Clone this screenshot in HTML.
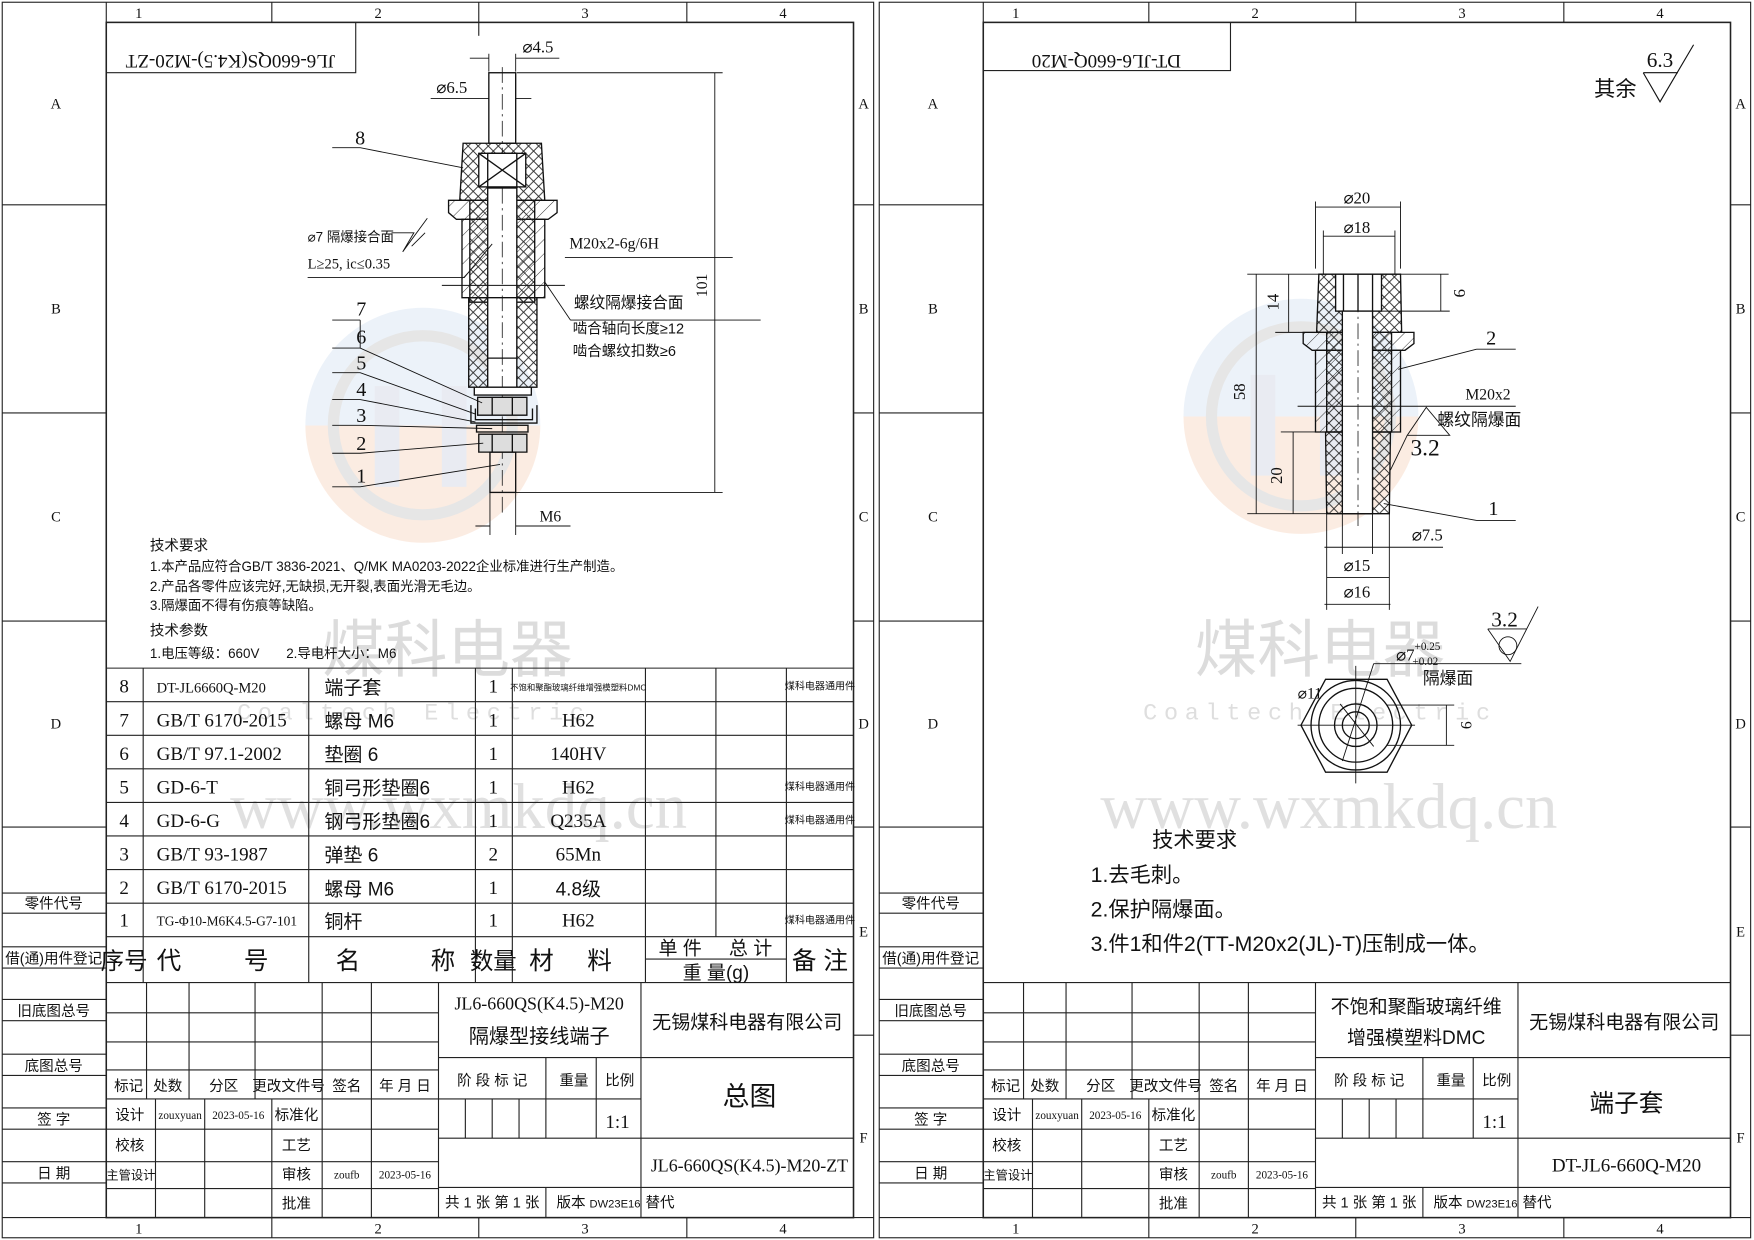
<!DOCTYPE html>
<html><head><meta charset="utf-8"><style>
html,body{margin:0;padding:0;background:#fff;}
svg{display:block;}
text{font-family:"Liberation Serif","Noto Sans CJK SC",serif;fill:#111;}
.c{text-anchor:middle;}
.s{font-family:"Liberation Sans","Noto Sans CJK SC",sans-serif;}
</style></head><body>
<svg width="1754" height="1240" viewBox="0 0 1568 1108" preserveAspectRatio="none" xmlns="http://www.w3.org/2000/svg">
<defs>
<pattern id="hx" patternUnits="userSpaceOnUse" width="9" height="9">
<path d="M0 0L9 9M9 0L0 9" stroke="#222" stroke-width="0.8"/></pattern>
<pattern id="h1" patternUnits="userSpaceOnUse" width="9" height="9" patternTransform="rotate(45)">
<line x1="0" y1="0" x2="0" y2="9" stroke="#222" stroke-width="0.8"/></pattern>
<linearGradient id="wm" x1="0" y1="0" x2="0" y2="1">
<stop offset="0.5" stop-color="#e9f0f8"/><stop offset="0.5" stop-color="#fbe9de"/></linearGradient>
</defs>
<rect width="1568" height="1108" fill="#fff"/>

<!-- watermarks -->
<g opacity="0.85">
<circle cx="378" cy="380" r="105" fill="url(#wm)"/>
<circle cx="378" cy="380" r="80" fill="none" stroke="#e2e2e2" stroke-width="10"/>
<rect x="335" y="345" width="22" height="90" fill="#e6e8f0"/><rect x="395" y="345" width="22" height="90" fill="#e6e8f0"/>
<circle cx="1163" cy="372" r="105" fill="url(#wm)"/>
<circle cx="1163" cy="372" r="80" fill="none" stroke="#e2e2e2" stroke-width="10"/>
<rect x="1118" y="335" width="22" height="90" fill="#e6e8f0"/><rect x="1180" y="335" width="22" height="90" fill="#e6e8f0"/>
</g>
<g fill="#d9d9d9">
<text x="400" y="600" class="c s" font-size="56" style="fill:#dcdcdc">煤科电器</text>
<text x="1180" y="600" class="c s" font-size="56" style="fill:#dcdcdc">煤科电器</text>
<text x="370" y="643" class="c" font-size="21" letter-spacing="6" style="fill:#dedede;font-family:'Liberation Mono',monospace">Coaltech Electric</text>
<text x="1180" y="643" class="c" font-size="21" letter-spacing="6" style="fill:#dedede;font-family:'Liberation Mono',monospace">Coaltech Electric</text>
<text x="410" y="740" class="c" font-size="58" style="fill:#e0e0e0">www.wxmkdq.cn</text>
<text x="1188" y="740" class="c" font-size="58" style="fill:#e0e0e0">www.wxmkdq.cn</text>
</g>

<!-- ============ FRAMES ============ -->
<g id="fr" fill="none" stroke="#222" stroke-width="1">
<rect x="2" y="2" width="779" height="1104"/>
<rect x="95" y="20" width="668" height="1068" stroke-width="1.4"/>
<line x1="95" y1="2" x2="95" y2="20"/><line x1="243" y1="2" x2="243" y2="20"/><line x1="428" y1="2" x2="428" y2="32"/><line x1="614" y1="2" x2="614" y2="20"/>
<line x1="2" y1="1088" x2="95" y2="1088"/><line x1="763" y1="1088" x2="781" y2="1088"/>
<line x1="243" y1="1088" x2="243" y2="1106"/><line x1="428" y1="1088" x2="428" y2="1106"/><line x1="614" y1="1088" x2="614" y2="1106"/>
<line x1="2" y1="183" x2="95" y2="183"/><line x1="2" y1="369" x2="95" y2="369"/><line x1="2" y1="555" x2="95" y2="555"/><line x1="2" y1="739" x2="95" y2="739"/>
<line x1="763" y1="183" x2="781" y2="183"/><line x1="763" y1="369" x2="781" y2="369"/><line x1="763" y1="555" x2="781" y2="555"/><line x1="763" y1="739" x2="781" y2="739"/><line x1="763" y1="925" x2="781" y2="925"/>
<path d="M2 798H95M2 816H95M2 846H95M2 865H95M2 893H95M2 912H95M2 942H95M2 961H95M2 990H95M2 1009H95M2 1038H95M2 1057H95"/>
<!-- title block -->
<line x1="95" y1="878" x2="763" y2="878"/>
<path d="M95 905H392M95 931H392M95 956H392M95 982H392M95 1009H392M95 1038H392M95 1062H392"/>
<path d="M131 878V982M169 878V982M228 878V982M288 878V1088M332 878V1088M139 982V1088M183 982V1088M243 982V1088"/>
<line x1="392" y1="878" x2="392" y2="1088"/><line x1="573" y1="878" x2="573" y2="1088"/>
<path d="M392 945H763M392 982H573M392 1017H763M392 1061H763"/>
<path d="M488 945V1017M533 945V1017M416 982V1017M440 982V1017M464 982V1017M488 1061V1088"/>
</g>
<g font-size="13">
<text x="124" y="16" class="c">1</text><text x="338" y="16" class="c">2</text><text x="523" y="16" class="c">3</text><text x="700" y="16" class="c">4</text>
<text x="124" y="1102" class="c">1</text><text x="338" y="1102" class="c">2</text><text x="523" y="1102" class="c">3</text><text x="700" y="1102" class="c">4</text>
<text x="50" y="97" class="c">A</text><text x="50" y="280" class="c">B</text><text x="50" y="466" class="c">C</text><text x="50" y="651" class="c">D</text>
<text x="772" y="97" class="c">A</text><text x="772" y="280" class="c">B</text><text x="772" y="466" class="c">C</text><text x="772" y="651" class="c">D</text><text x="772" y="837" class="c">E</text><text x="772" y="1021" class="c">F</text>
</g>
<g font-size="13" class="s">
<text x="48" y="812" class="c s">零件代号</text><text x="48" y="861" class="c s">借(通)用件登记</text><text x="48" y="908" class="c s">旧底图总号</text>
<text x="48" y="957" class="c s">底图总号</text><text x="48" y="1005" class="c s">签 字</text><text x="48" y="1053" class="c s">日 期</text>
<text x="115" y="975" class="c s">标记</text><text x="150" y="975" class="c s">处数</text><text x="200" y="975" class="c s">分区</text><text x="258" y="975" class="c s">更改文件号</text><text x="310" y="975" class="c s">签名</text><text x="362" y="975" class="c s">年 月 日</text>
<text x="116" y="1001" class="c s">设计</text><text x="161" y="1000" class="c" font-size="10">zouxyuan</text><text x="213" y="1000" class="c" font-size="10">2023-05-16</text><text x="265" y="1001" class="c s">标准化</text>
<text x="116" y="1028" class="c s">校核</text><text x="265" y="1028" class="c s">工艺</text>
<text x="117" y="1054" class="c s" font-size="11">主管设计</text><text x="265" y="1054" class="c s">审核</text><text x="310" y="1053" class="c" font-size="10">zoufb</text><text x="362" y="1053" class="c" font-size="10">2023-05-16</text>
<text x="265" y="1080" class="c s">批准</text>
<text x="440" y="970" class="c s">阶 段 标 记</text><text x="513" y="970" class="c s">重量</text><text x="554" y="970" class="c s">比例</text>
<text x="552" y="1008" class="c" font-size="17">1:1</text>
<text x="440" y="1079" class="c s">共 1 张  第 1 张</text><text x="535" y="1079" class="c s">版本 <tspan font-size="10" class="s">DW23E16</tspan></text><text x="590" y="1079" class="c s">替代</text>
</g>
<g font-size="17" class="s">
<text x="482" y="902" class="c" font-size="16">JL6-660QS(K4.5)-M20</text>
<text x="482" y="932" class="c s" font-size="18">隔爆型接线端子</text>
<text x="668" y="919" class="c s" font-size="17">无锡煤科电器有限公司</text>
<text x="670" y="988" class="c s" font-size="24">总图</text>
<text x="670" y="1047" class="c" font-size="16">JL6-660QS(K4.5)-M20-ZT</text>
</g>
<!-- inverted title box left -->
<path d="M95 65H318V20" fill="none" stroke="#222"/>
<text x="206" y="35" class="c" font-size="17" transform="rotate(180 206 42)">JL6-660QS(K4.5)-M20-ZT</text>

<!-- parts table -->
<g fill="none" stroke="#222" stroke-width="1">
<path d="M95 597H763M95 627H763M95 657H763M95 687H763M95 717H763M95 747H763M95 777H763M95 807H763M95 837H763"/>
<path d="M128 597V878M276 597V878M425 597V878M458 597V878M577 597V878M703 597V878M640 597V837M577 857H703"/>
</g>
<g font-size="17">
<text x="111" y="619" class="c">8</text><text x="140" y="619" font-size="13">DT-JL6660Q-M20</text><text x="290" y="620" class="s">端子套</text><text x="441" y="619" class="c">1</text><text x="517" y="617" class="c s" font-size="7.5">不饱和聚酯玻璃纤维增强模塑料DMC</text><text x="733" y="616" class="c s" font-size="9">煤科电器通用件</text>
<text x="111" y="649" class="c">7</text><text x="140" y="649">GB/T 6170-2015</text><text x="290" y="650" class="s">螺母 M6</text><text x="441" y="649" class="c">1</text><text x="517" y="649" class="c">H62</text>
<text x="111" y="679" class="c">6</text><text x="140" y="679">GB/T 97.1-2002</text><text x="290" y="680" class="s">垫圈 6</text><text x="441" y="679" class="c">1</text><text x="517" y="679" class="c">140HV</text>
<text x="111" y="709" class="c">5</text><text x="140" y="709">GD-6-T</text><text x="290" y="710" class="s">铜弓形垫圈6</text><text x="441" y="709" class="c">1</text><text x="517" y="709" class="c">H62</text><text x="733" y="706" class="c s" font-size="9">煤科电器通用件</text>
<text x="111" y="739" class="c">4</text><text x="140" y="739">GD-6-G</text><text x="290" y="740" class="s">钢弓形垫圈6</text><text x="441" y="739" class="c">1</text><text x="517" y="739" class="c">Q235A</text><text x="733" y="736" class="c s" font-size="9">煤科电器通用件</text>
<text x="111" y="769" class="c">3</text><text x="140" y="769">GB/T 93-1987</text><text x="290" y="770" class="s">弹垫 6</text><text x="441" y="769" class="c">2</text><text x="517" y="769" class="c">65Mn</text>
<text x="111" y="799" class="c">2</text><text x="140" y="799">GB/T 6170-2015</text><text x="290" y="800" class="s">螺母 M6</text><text x="441" y="799" class="c">1</text><text x="517" y="800" class="c s">4.8级</text>
<text x="111" y="828" class="c">1</text><text x="140" y="827" font-size="12">TG-Φ10-M6K4.5-G7-101</text><text x="290" y="829" class="s">铜杆</text><text x="441" y="828" class="c">1</text><text x="517" y="828" class="c">H62</text><text x="733" y="825" class="c s" font-size="9">煤科电器通用件</text>
<text x="111" y="866" class="c s" font-size="21">序号</text><text x="140" y="866" class="s" font-size="22">代</text><text x="218" y="866" class="s" font-size="22">号</text>
<text x="300" y="866" class="s" font-size="22">名</text><text x="385" y="866" class="s" font-size="22">称</text>
<text x="441" y="866" class="c s" font-size="21">数量</text><text x="473" y="866" class="s" font-size="22">材</text><text x="525" y="866" class="s" font-size="22">料</text>
<text x="608" y="853" class="c s" font-size="17">单 件</text><text x="671" y="853" class="c s" font-size="17">总 计</text><text x="640" y="875" class="c s" font-size="17">重 量(g)</text>
<text x="733" y="866" class="c s" font-size="22">备 注</text>
</g>
<!-- tech req left -->
<g font-size="12" class="s">
<text x="134" y="492" class="s" font-size="13">技术要求</text>
<text x="134" y="510" class="s">1.本产品应符合GB/T 3836-2021、Q/MK MA0203-2022企业标准进行生产制造。</text>
<text x="134" y="528" class="s">2.产品各零件应该完好,无缺损,无开裂,表面光滑无毛边。</text>
<text x="134" y="545" class="s">3.隔爆面不得有伤痕等缺陷。</text>
<text x="134" y="568" class="s" font-size="13">技术参数</text>
<text x="134" y="588" class="s">1.电压等级：660V　　2.导电杆大小：M6</text>
</g>

<!-- ===== left drawing ===== -->
<g stroke="#111" stroke-width="1.2" fill="none">
<line x1="449" y1="60" x2="449" y2="460" stroke-dasharray="14 4 2 4" stroke-width="0.7"/>
<rect x="437" y="65" width="24" height="63"/>
<!-- cap part 8 -->
<path d="M414 128H484L487 179H411Z" fill="url(#hx)"/>
<rect x="436" y="137" width="26" height="45" fill="#fff"/>
<rect x="428" y="137" width="42" height="30" fill="#fff"/><path d="M428 137L470 167M470 137L428 167M436 137V167M462 137V167"/>
<!-- flange -->
<path d="M401 179H498V190L490 196H408L401 190Z" fill="url(#h1)"/>
<path d="M413 196H487V266H413Z" fill="url(#h1)"/>
<path d="M420 179H478V270H420Z" fill="url(#hx)"/>
<rect x="436" y="168" width="26" height="178" fill="#fff"/>
<path d="M419 266H480V346H419Z" fill="url(#hx)"/>
<rect x="436" y="266" width="26" height="80" fill="#fff"/><line x1="436" y1="320" x2="462" y2="320"/>
<line x1="449" y1="168" x2="449" y2="346" stroke-dasharray="14 4 2 4" stroke-width="0.7"/>
<!-- nuts washers -->
<rect x="424" y="346" width="51" height="7" fill="#fff"/>
<path d="M427 355H471V371H427Z" fill="#ddd"/><path d="M440 355V371M458 355V371"/>
<path d="M421 362V378H480V362M425 365V375H476V365"/>
<rect x="426" y="380" width="46" height="6"/>
<path d="M428 388H471V404H428Z" fill="#ddd"/><path d="M440 388V404M458 388V404"/>
<rect x="438" y="404" width="23" height="36"/>
</g>
<!-- left leaders & dims -->
<g stroke="#111" stroke-width="0.8" fill="none">
<path d="M420 52H437M461 52H500M437 48V64M461 48V64"/>
<path d="M385 88H437M461 88H475"/>
<path d="M297 132H322L414 150"/>
<path d="M297 286H322M297 311H322L431 360M297 333H322L425 370M297 357H322L425 377M297 380H322L440 383M297 405H322L432 396M297 435H322L447 415M322 286V311"/>
<path d="M275 248H415L440 218M368 220L380 208"/>
<path d="M395 255H505"/><path d="M505 230H655"/>
<path d="M510 286H680M510 286L487 252"/>
<path d="M462 65H646M461 440H646M639 65V440"/>
<path d="M438 440V478M461 440V478M425 470H438M461 470H510"/>
<path d="M350 208H370L360 225L382 195" />
</g>
<g font-size="15">
<text x="467" y="47">⌀4.5</text>
<text x="390" y="83">⌀6.5</text>
<text x="322" y="129" class="c" font-size="18">8</text>
<text x="323" y="282" class="c" font-size="18">7</text><text x="323" y="307" class="c" font-size="18">6</text><text x="323" y="330" class="c" font-size="18">5</text>
<text x="323" y="354" class="c" font-size="18">4</text><text x="323" y="377" class="c" font-size="18">3</text><text x="323" y="402" class="c" font-size="18">2</text><text x="323" y="431" class="c" font-size="18">1</text>
<text x="275" y="216" font-size="12" class="s">⌀7 隔爆接合面</text>
<text x="275" y="240" font-size="13">L≥25, ic≤0.35</text>
<text x="509" y="222" font-size="14">M20x2-6g/6H</text>
<text x="513" y="275" font-size="14" class="s">螺纹隔爆接合面</text>
<text x="512" y="298" font-size="13" class="s">啮合轴向长度≥12</text>
<text x="512" y="318" font-size="13" class="s">啮合螺纹扣数≥6</text>
<text x="632" y="255" class="c" font-size="14" transform="rotate(-90 632 255)">101</text>
<text x="492" y="466" class="c" font-size="14">M6</text>
</g>

<!-- ============ RIGHT FRAME (copy shifted) ============ -->
<g transform="translate(784 0)">
<g fill="none" stroke="#222" stroke-width="1">
<rect x="2" y="2" width="779" height="1104"/>
<rect x="95" y="20" width="668" height="1068" stroke-width="1.4"/>
<line x1="95" y1="2" x2="95" y2="20"/><line x1="243" y1="2" x2="243" y2="20"/><line x1="428" y1="2" x2="428" y2="20"/><line x1="614" y1="2" x2="614" y2="20"/>
<line x1="2" y1="1088" x2="95" y2="1088"/><line x1="763" y1="1088" x2="781" y2="1088"/>
<line x1="243" y1="1088" x2="243" y2="1106"/><line x1="428" y1="1088" x2="428" y2="1106"/><line x1="614" y1="1088" x2="614" y2="1106"/>
<line x1="2" y1="183" x2="95" y2="183"/><line x1="2" y1="369" x2="95" y2="369"/><line x1="2" y1="555" x2="95" y2="555"/><line x1="2" y1="739" x2="95" y2="739"/>
<line x1="763" y1="183" x2="781" y2="183"/><line x1="763" y1="369" x2="781" y2="369"/><line x1="763" y1="555" x2="781" y2="555"/><line x1="763" y1="739" x2="781" y2="739"/><line x1="763" y1="925" x2="781" y2="925"/>
<path d="M2 798H95M2 816H95M2 846H95M2 865H95M2 893H95M2 912H95M2 942H95M2 961H95M2 990H95M2 1009H95M2 1038H95M2 1057H95"/>
<line x1="95" y1="878" x2="763" y2="878"/>
<path d="M95 905H392M95 931H392M95 956H392M95 982H392M95 1009H392M95 1038H392M95 1062H392"/>
<path d="M131 878V982M169 878V982M228 878V982M288 878V1088M332 878V1088M139 982V1088M183 982V1088M243 982V1088"/>
<line x1="392" y1="878" x2="392" y2="1088"/><line x1="573" y1="878" x2="573" y2="1088"/>
<path d="M392 945H763M392 982H573M392 1017H763M392 1061H763"/>
<path d="M488 945V1017M533 945V1017M416 982V1017M440 982V1017M464 982V1017M488 1061V1088"/>
<path d="M95 63H316V20"/>
</g>
<g font-size="13">
<text x="124" y="16" class="c">1</text><text x="338" y="16" class="c">2</text><text x="523" y="16" class="c">3</text><text x="700" y="16" class="c">4</text>
<text x="124" y="1102" class="c">1</text><text x="338" y="1102" class="c">2</text><text x="523" y="1102" class="c">3</text><text x="700" y="1102" class="c">4</text>
<text x="50" y="97" class="c">A</text><text x="50" y="280" class="c">B</text><text x="50" y="466" class="c">C</text><text x="50" y="651" class="c">D</text>
<text x="772" y="97" class="c">A</text><text x="772" y="280" class="c">B</text><text x="772" y="466" class="c">C</text><text x="772" y="651" class="c">D</text><text x="772" y="837" class="c">E</text><text x="772" y="1021" class="c">F</text>
</g>
<g font-size="13">
<text x="48" y="812" class="c s">零件代号</text><text x="48" y="861" class="c s">借(通)用件登记</text><text x="48" y="908" class="c s">旧底图总号</text>
<text x="48" y="957" class="c s">底图总号</text><text x="48" y="1005" class="c s">签 字</text><text x="48" y="1053" class="c s">日 期</text>
<text x="115" y="975" class="c s">标记</text><text x="150" y="975" class="c s">处数</text><text x="200" y="975" class="c s">分区</text><text x="258" y="975" class="c s">更改文件号</text><text x="310" y="975" class="c s">签名</text><text x="362" y="975" class="c s">年 月 日</text>
<text x="116" y="1001" class="c s">设计</text><text x="161" y="1000" class="c" font-size="10">zouxyuan</text><text x="213" y="1000" class="c" font-size="10">2023-05-16</text><text x="265" y="1001" class="c s">标准化</text>
<text x="116" y="1028" class="c s">校核</text><text x="265" y="1028" class="c s">工艺</text>
<text x="117" y="1054" class="c s" font-size="11">主管设计</text><text x="265" y="1054" class="c s">审核</text><text x="310" y="1053" class="c" font-size="10">zoufb</text><text x="362" y="1053" class="c" font-size="10">2023-05-16</text>
<text x="265" y="1080" class="c s">批准</text>
<text x="440" y="970" class="c s">阶 段 标 记</text><text x="513" y="970" class="c s">重量</text><text x="554" y="970" class="c s">比例</text>
<text x="552" y="1008" class="c" font-size="17">1:1</text>
<text x="440" y="1079" class="c s">共 1 张  第 1 张</text><text x="535" y="1079" class="c s">版本 <tspan font-size="10">DW23E16</tspan></text><text x="590" y="1079" class="c s">替代</text>
<text x="482" y="905" class="c s" font-size="17">不饱和聚酯玻璃纤维</text>
<text x="482" y="933" class="c s" font-size="17">增强模塑料DMC</text>
<text x="668" y="919" class="c s" font-size="17">无锡煤科电器有限公司</text>
<text x="670" y="993" class="c s" font-size="22">端子套</text>
<text x="670" y="1047" class="c" font-size="17">DT-JL6-660Q-M20</text>
<text x="205" y="35" class="c" font-size="17" transform="rotate(180 205 42)">DT-JL6-660Q-M20</text>
</g>
</g>

<!-- right tech req -->
<g class="s">
<text x="1030" y="757" class="s" font-size="19">技术要求</text>
<text x="975" y="788" class="s" font-size="19">1.去毛刺。</text>
<text x="975" y="819" class="s" font-size="19">2.保护隔爆面。</text>
<text x="975" y="850" class="s" font-size="19">3.件1和件2(TT-M20x2(JL)-T)压制成一体。</text>
</g>
<!-- roughness note -->
<g stroke="#111" stroke-width="1" fill="none"><path d="M1469 65H1500M1469 65L1484 91L1514 40"/></g>
<text x="1444" y="86" class="c s" font-size="19">其余</text>
<text x="1484" y="60" class="c" font-size="19">6.3</text>

<!-- ===== right drawing ===== -->
<g stroke="#111" stroke-width="1.2" fill="none">
<path d="M1179 245H1252L1253 297H1177Z" fill="url(#hx)"/>
<rect x="1194" y="245" width="41" height="33" fill="#fff"/><path d="M1201 245V278M1227 245V278M1214 245V278"/>
<path d="M1165 297H1264V307L1256 313H1173L1165 307Z" fill="url(#h1)"/>
<path d="M1176 313H1252V386H1176Z" fill="url(#h1)"/>
<path d="M1186 297H1244V386H1186Z" fill="url(#hx)"/>
<path d="M1185 386H1243L1242 459H1186Z" fill="url(#hx)"/>
<rect x="1200" y="278" width="27" height="181" fill="#fff"/>
<line x1="1214" y1="265" x2="1214" y2="470" stroke-dasharray="14 4 2 4" stroke-width="0.7"/>
</g>
<g stroke="#111" stroke-width="0.8" fill="none">
<path d="M1176 240V180M1252 240V180M1176 185H1252M1183 245V206M1247 245V206M1183 211H1247"/>
<path d="M1115 245H1295M1115 459H1200M1123 245V459M1152 245V297M1140 297H1176M1156 386V459M1145 386H1186M1288 245V278M1235 278H1296"/>
<path d="M1186 459V545M1242 459V545M1200 459V495M1227 459V495M1184 489H1290M1186 516H1242M1184 540H1243"/>
<path d="M1320 312H1355M1320 312L1250 330M1320 465H1355M1320 465L1237 450"/>
<path d="M1160 363H1355M1275 364L1258 389H1296Z M1258 389L1243 420"/>
</g>
<g font-size="15">
<text x="1213" y="182" class="c">⌀20</text>
<text x="1213" y="208" class="c">⌀18</text>
<text x="1143" y="270" class="c" transform="rotate(-90 1143 270)">14</text>
<text x="1113" y="350" class="c" transform="rotate(-90 1113 350)">58</text>
<text x="1146" y="425" class="c" transform="rotate(-90 1146 425)">20</text>
<text x="1300" y="262" class="c" transform="rotate(90 1300 262)">9</text>
<text x="1333" y="308" class="c" font-size="18">2</text>
<text x="1335" y="460" class="c" font-size="18">1</text>
<text x="1310" y="357" font-size="14">M20x2</text>
<text x="1285" y="380" class="s" font-size="15">螺纹隔爆面</text>
<text x="1274" y="407" class="c" font-size="21">3.2</text>
<text x="1262" y="483" font-size="15">⌀7.5</text>
<text x="1213" y="510" class="c">⌀15</text>
<text x="1213" y="534" class="c">⌀16</text>
</g>
<!-- bottom view -->
<g stroke="#111" stroke-width="1.2" fill="none">
<path d="M1185 607H1240L1262 648L1240 690H1185L1163 648Z"/>
<circle cx="1212" cy="648" r="40"/><circle cx="1212" cy="648" r="33"/>
<circle cx="1212" cy="648" r="19"/><circle cx="1212" cy="648" r="12"/>
</g>
<g stroke="#111" stroke-width="0.8" fill="none">
<path d="M1160 648H1265M1212 595V700M1198 629L1228 667M1228 593H1360M1228 593L1200 680M1240 630H1300M1240 666H1300M1293 630V666"/>
<path d="M1330 562L1350 591L1375 542M1330 562H1365"/><circle cx="1348" cy="577" r="8"/>
</g>
<text x="1345" y="560" class="c" font-size="19">3.2</text>
<text x="1248" y="590" font-size="15">⌀7<tspan font-size="10" dy="-9">+0.25</tspan><tspan font-size="10" dx="-25" dy="13">+0.02</tspan></text>
<text x="1272" y="611" class="s" font-size="15">隔爆面</text>
<text x="1160" y="624" font-size="14">⌀11</text>
<text x="1306" y="648" class="c" font-size="14" transform="rotate(90 1306 648)">9</text>
</svg>
</body></html>
